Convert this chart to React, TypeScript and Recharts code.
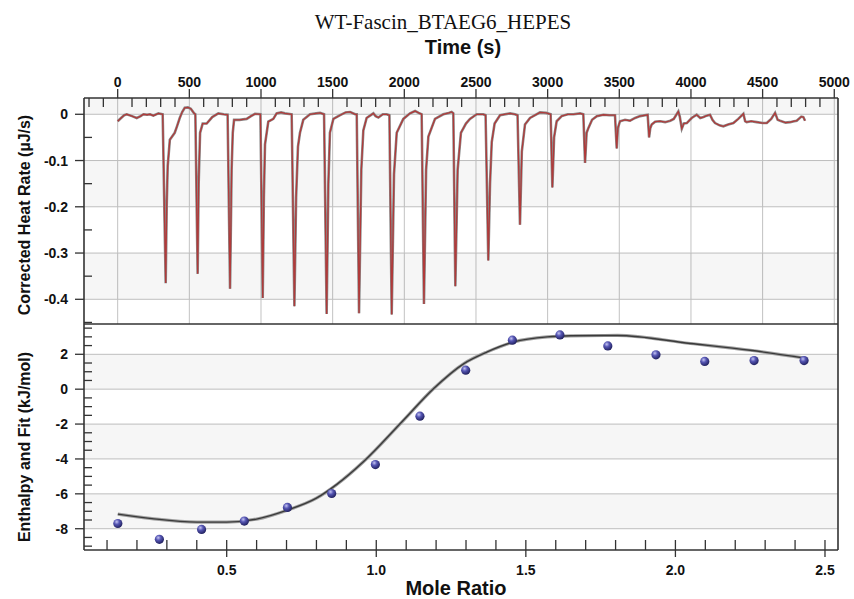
import React from 'react';
import { ComposedChart, Line, Scatter, XAxis, YAxis, CartesianGrid, ReferenceArea } from 'recharts';

// ---- Raw thermogram (time in s, corrected heat rate in µJ/s) ----
const heatTime = [
  0, 20, 45, 63, 100, 133, 160, 180, 205, 226, 249, 284, 314,
  335, 342, 349, 364, 380, 398, 415, 433, 450, 468, 490, 510, 533, 542,
  558, 565, 575, 593, 621, 660, 702, 740, 767,
  784, 795, 803, 812, 850, 900, 930, 958, 996,
  1012, 1020, 1028, 1051, 1086, 1109, 1140, 1167, 1214,
  1233, 1245, 1258, 1272, 1295, 1342, 1385, 1412, 1440,
  1458, 1470, 1481, 1505, 1552, 1590, 1622, 1657, 1668,
  1684, 1700, 1714, 1737, 1784, 1800, 1819, 1850, 1877, 1896,
  1912, 1928, 1947, 1993, 2040, 2075, 2100, 2121,
  2137, 2152, 2168, 2214, 2272, 2310, 2330, 2342,
  2356, 2372, 2395, 2430, 2458, 2505, 2551, 2567,
  2586, 2598, 2610, 2630, 2668, 2738, 2772, 2790,
  2807, 2820, 2842, 2877, 2947, 2990, 3021,
  3033, 3045, 3063, 3098, 3140, 3180, 3226, 3249,
  3261, 3272, 3284, 3310, 3343, 3389, 3430, 3470,
  3482, 3490, 3505, 3540, 3575, 3610, 3645, 3698,
  3708, 3716, 3726, 3750, 3784, 3820, 3856, 3880, 3912,
  3922, 3936, 3950, 3971, 4005, 4040, 4065, 4087, 4110, 4133, 4150, 4168, 4200, 4226, 4260, 4296,
  4330, 4366, 4378, 4389, 4420, 4459, 4500, 4529, 4560, 4587, 4605, 4622, 4660, 4692, 4720, 4738,
  4770, 4784, 4796,
];
const heatRate = [
  -0.015, -0.009, -0.002, 0.0, -0.004, -0.008, -0.004, 0.0, -0.001, 0.0, -0.003, 0.002, 0.0,
  -0.365, -0.2, -0.112, -0.055, -0.048, -0.04, -0.025, -0.008, 0.005, 0.014, 0.015, 0.012, 0.002, 0.0,
  -0.345, -0.15, -0.04, -0.02, -0.02, -0.006, 0.002, 0.0, -0.001,
  -0.377, -0.12, -0.04, -0.012, -0.012, -0.01, -0.004, 0.001, 0.0,
  -0.397, -0.18, -0.065, -0.016, -0.01, 0.002, 0.004, 0.002, 0.0,
  -0.415, -0.18, -0.07, -0.04, -0.012, 0.0, 0.002, 0.003, 0.0,
  -0.432, -0.15, -0.04, -0.01, -0.002, 0.004, 0.005, 0.0, 0.0,
  -0.43, -0.12, -0.035, -0.008, 0.002, -0.004, -0.007, 0.0, 0.0, -0.002,
  -0.433, -0.13, -0.04, -0.01, 0.002, 0.007, 0.003, 0.0,
  -0.41, -0.12, -0.048, -0.01, 0.0, 0.003, 0.005, 0.002,
  -0.372, -0.12, -0.04, -0.02, -0.01, 0.0, 0.0, -0.002,
  -0.316, -0.15, -0.06, -0.02, -0.002, 0.002, 0.0, -0.002,
  -0.239, -0.08, -0.022, -0.008, 0.004, 0.003, 0.0,
  -0.158, -0.05, -0.015, -0.004, 0.0, 0.0, 0.002, 0.0,
  -0.105, -0.04, -0.03, -0.012, -0.004, -0.001, -0.002, -0.002,
  -0.074, -0.03, -0.015, -0.012, -0.014, -0.008, -0.004, -0.001,
  -0.05, -0.03, -0.022, -0.016, -0.015, -0.017, -0.014, -0.01, 0.006,
  -0.005, -0.031, -0.02, -0.019, -0.008, -0.001, -0.008, -0.006, -0.003, -0.001, -0.012, -0.019, -0.024, -0.026, -0.022, -0.019,
  -0.01, 0.001, -0.015, -0.017, -0.015, -0.017, -0.019, -0.019, -0.01, 0.003, -0.012, -0.014, -0.018, -0.017, -0.015, -0.014,
  -0.005, -0.006, -0.014,
];

// ---- Integrated heats (mole ratio vs kJ/mol) ----
const moleRatio = [0.136, 0.275, 0.416, 0.559, 0.703, 0.851, 0.997, 1.146, 1.299, 1.455, 1.614, 1.774, 1.935, 2.098, 2.263, 2.43];
const enthalpy = [-7.7, -8.61, -8.04, -7.56, -6.78, -5.98, -4.32, -1.55, 1.09, 2.81, 3.11, 2.48, 1.97, 1.59, 1.64, 1.64];

// ---- Fitted curve ----
const fitRatio = [0.136, 0.25, 0.4, 0.5, 0.6, 0.7, 0.8, 0.868, 0.957, 1.086, 1.192, 1.293, 1.371, 1.46, 1.572, 1.65, 1.806, 2.05, 2.25, 2.43];
const fitEnthalpy = [-7.16, -7.42, -7.62, -7.62, -7.45, -6.95, -6.25, -5.46, -4.16, -1.87, 0.04, 1.47, 2.14, 2.71, 3.0, 3.06, 3.08, 2.62, 2.23, 1.79];

// ---- Ticks ----
const timeMajorTicks = [0, 500, 1000, 1500, 2000, 2500, 3000, 3500, 4000, 4500, 5000];
const timeAllTicks = Array.from({ length: 53 }, (_, i) => -200 + i * 100);
const rateMajorTicks = [0, -0.1, -0.2, -0.3, -0.4];
const rateAllTicks = [0, -0.05, -0.1, -0.15, -0.2, -0.25, -0.3, -0.35, -0.4, -0.45];
const ratioMajorTicks = [0.5, 1.0, 1.5, 2.0, 2.5];
const ratioAllTicks = Array.from({ length: 25 }, (_, i) => (i + 1) / 10);
const enthMajorTicks = [2, 0, -2, -4, -6, -8];
const enthAllTicks = Array.from({ length: 26 }, (_, i) => -9 + i * 0.5);

const timeDomain: [number, number] = [-235, 5026];
const rateDomain: [number, number] = [-0.4534, 0.0352];
const ratioDomain: [number, number] = [0.023, 2.5435];
const enthDomain: [number, number] = [-9.22, 3.737];

const rateBands: [number, number][] = [[0, 0.0352], [-0.2, -0.1], [-0.4, -0.3]];
const enthBands: [number, number][] = [[0, 2], [-4, -2], [-8, -6]];

const heatData = heatTime.map((t, i) => ({ x: t, y: heatRate[i] }));
const pointData = moleRatio.map((r, i) => ({ x: r, y: enthalpy[i] }));
const fitData = fitRatio.map((r, i) => ({ x: r, y: fitEnthalpy[i] }));

const AX = '#333';
const tickText: React.CSSProperties = {
  fontFamily: '"Liberation Sans", Arial, sans-serif',
  fontWeight: 700,
  fontSize: 14,
  fill: '#111',
};
const titleText: React.CSSProperties = {
  fontFamily: '"Liberation Sans", Arial, sans-serif',
  fontWeight: 700,
  fill: '#111',
};

const isIn = (arr: number[], v: number) => arr.some((a) => Math.abs(a - v) < 1e-6);

const TopTick = (props: any) => {
  const { x, y, payload } = props;
  const v = payload.value;
  if (isIn(timeMajorTicks, v)) {
    return (
      <g>
        <line x1={x} x2={x} y1={y - 9} y2={y} stroke={AX} strokeWidth={1.3} />
        <text x={x} y={y - 11.5} textAnchor="middle" style={tickText}>{String(v)}</text>
      </g>
    );
  }
  return <line x1={x} x2={x} y1={y} y2={y + 9} stroke={AX} strokeWidth={1.3} />;
};

const BottomTick = (props: any) => {
  const { x, y, payload } = props;
  const v = payload.value;
  if (isIn(ratioMajorTicks, v)) {
    return (
      <g>
        <line x1={x} x2={x} y1={y - 10} y2={y + 7} stroke={AX} strokeWidth={1.3} />
        <text x={x} y={y + 25} textAnchor="middle" style={tickText}>{v.toFixed(1)}</text>
      </g>
    );
  }
  return <line x1={x} x2={x} y1={y - 10} y2={y} stroke={AX} strokeWidth={1.3} />;
};

const makeLeftTick = (majors: number[], fmt: (v: number) => string) => (props: any) => {
  const { x, y, payload } = props;
  const v = payload.value;
  if (isIn(majors, v)) {
    return (
      <g>
        <line x1={x - 9} x2={x} y1={y} y2={y} stroke={AX} strokeWidth={1.3} />
        <text x={x - 16} y={y} dy="0.36em" textAnchor="end" style={tickText}>{fmt(v)}</text>
      </g>
    );
  }
  return <line x1={x} x2={x + 8} y1={y} y2={y} stroke={AX} strokeWidth={1.3} />;
};

const RateTick = makeLeftTick(rateMajorTicks, (v) => (Math.abs(v) < 1e-9 ? '0' : v.toFixed(1)));
const EnthTick = makeLeftTick(enthMajorTicks, (v) => String(Math.round(v)));

const Ball = (props: any) => {
  const { cx, cy } = props;
  if (cx == null || cy == null) return null;
  return (
    <g>
      <defs>
        <radialGradient id="ballGrad" cx="38%" cy="32%" r="70%">
          <stop offset="0%" stopColor="#c4c4f2" />
          <stop offset="40%" stopColor="#5656b4" />
          <stop offset="100%" stopColor="#1f1f5c" />
        </radialGradient>
      </defs>
      <circle cx={cx} cy={cy} r={4.6} fill="url(#ballGrad)" />
    </g>
  );
};

const axisLineStyle = { stroke: AX, strokeWidth: 1.6 };

export default function App() {
  return (
    <div style={{ position: 'absolute', left: 0, top: 0, width: 854, height: 599, background: '#fff' }}>
      <div style={{ position: 'absolute', left: 0, top: 0 }}>
        <ComposedChart width={854} height={326} margin={{ top: 0, right: 0, bottom: 2, left: 0 }}>
          <XAxis
            xAxisId="t"
            type="number"
            dataKey="x"
            orientation="top"
            height={98}
            domain={timeDomain}
            allowDataOverflow
            ticks={timeAllTicks}
            interval={0}
            tick={TopTick}
            tickLine={false}
            tickSize={0}
            tickMargin={0}
            axisLine={axisLineStyle}
          />
          <YAxis
            yAxisId="l"
            type="number"
            orientation="left"
            width={84}
            domain={rateDomain}
            allowDataOverflow
            ticks={rateAllTicks}
            interval={0}
            tick={RateTick}
            tickLine={false}
            tickSize={0}
            tickMargin={0}
            axisLine={axisLineStyle}
          />
          <YAxis
            yAxisId="r"
            type="number"
            orientation="right"
            width={16}
            domain={rateDomain}
            allowDataOverflow
            tick={false}
            tickLine={false}
            axisLine={axisLineStyle}
          />
          {rateBands.map((b, i) => (
            <ReferenceArea
              key={'rb' + i}
              xAxisId="t"
              yAxisId="l"
              y1={b[0]}
              y2={b[1]}
              fill="#000"
              fillOpacity={0.035}
              stroke="none"
              ifOverflow="hidden"
            />
          ))}
          <CartesianGrid
            xAxisId="t"
            yAxisId="l"
            verticalValues={timeMajorTicks}
            horizontalValues={rateMajorTicks}
            stroke="#c2c2c2"
            strokeWidth={1}
          />
          <Line
            xAxisId="t"
            yAxisId="l"
            data={heatData}
            dataKey="y"
            name="shadow"
            type="linear"
            dot={false}
            stroke="#8a8a8a"
            strokeWidth={2.6}
            isAnimationActive={false}
          />
          <Line
            xAxisId="t"
            yAxisId="l"
            data={heatData}
            dataKey="y"
            name="heat"
            type="linear"
            dot={false}
            stroke="#b03a3a"
            strokeWidth={1.3}
            isAnimationActive={false}
          />
        </ComposedChart>
      </div>
      <div style={{ position: 'absolute', left: 0, top: 0 }}>
        <ComposedChart width={854} height={599} margin={{ top: 0, right: 0, bottom: 0, left: 0 }}>
          <XAxis
            xAxisId="tb"
            type="number"
            orientation="top"
            height={324}
            domain={ratioDomain}
            allowDataOverflow
            tick={false}
            tickLine={false}
            axisLine={axisLineStyle}
          />
          <XAxis
            xAxisId="time"
            type="number"
            orientation="top"
            hide
            domain={timeDomain}
            allowDataOverflow
            ticks={timeMajorTicks}
          />
          <XAxis
            xAxisId="mr"
            type="number"
            dataKey="x"
            orientation="bottom"
            height={49}
            domain={ratioDomain}
            allowDataOverflow
            ticks={ratioAllTicks}
            interval={0}
            tick={BottomTick}
            tickLine={false}
            tickSize={0}
            tickMargin={0}
            axisLine={axisLineStyle}
          />
          <YAxis
            yAxisId="l"
            type="number"
            orientation="left"
            width={84}
            domain={enthDomain}
            allowDataOverflow
            ticks={enthAllTicks}
            interval={0}
            tick={EnthTick}
            tickLine={false}
            tickSize={0}
            tickMargin={0}
            axisLine={axisLineStyle}
          />
          <YAxis
            yAxisId="r"
            type="number"
            orientation="right"
            width={16}
            domain={enthDomain}
            allowDataOverflow
            tick={false}
            tickLine={false}
            axisLine={axisLineStyle}
          />
          {enthBands.map((b, i) => (
            <ReferenceArea
              key={'eb' + i}
              xAxisId="mr"
              yAxisId="l"
              y1={b[0]}
              y2={b[1]}
              fill="#000"
              fillOpacity={0.035}
              stroke="none"
              ifOverflow="hidden"
            />
          ))}
          <CartesianGrid
            xAxisId="time"
            yAxisId="l"
            verticalValues={timeMajorTicks}
            horizontalValues={enthMajorTicks}
            stroke="#c2c2c2"
            strokeWidth={1}
          />
          <Line
            xAxisId="mr"
            yAxisId="l"
            data={fitData}
            dataKey="y"
            name="fitShadow"
            type="monotone"
            dot={false}
            stroke="#a0a0a0"
            strokeWidth={3.2}
            isAnimationActive={false}
          />
          <Line
            xAxisId="mr"
            yAxisId="l"
            data={fitData}
            dataKey="y"
            name="fit"
            type="monotone"
            dot={false}
            stroke="#3a3a3a"
            strokeWidth={1.4}
            isAnimationActive={false}
          />
          <Scatter
            xAxisId="mr"
            yAxisId="l"
            data={pointData}
            dataKey="y"
            name="points"
            shape={Ball}
            isAnimationActive={false}
          />
        </ComposedChart>
      </div>
      <svg
        width={854}
        height={599}
        style={{ position: 'absolute', left: 0, top: 0, pointerEvents: 'none' }}
      >
        <text
          x={443}
          y={29}
          textAnchor="middle"
          style={{ fontFamily: '"Liberation Serif", "Times New Roman", serif', fontSize: 21, fill: '#111' }}
        >
          WT-Fascin_BTAEG6_HEPES
        </text>
        <text x={463} y={54} textAnchor="middle" style={{ ...titleText, fontSize: 20 }}>Time (s)</text>
        <text x={456} y={595} textAnchor="middle" style={{ ...titleText, fontSize: 20 }}>Mole Ratio</text>
        <text transform="translate(30,215) rotate(-90)" textAnchor="middle" style={{ ...titleText, fontSize: 16 }}>
          Corrected Heat Rate (µJ/s)
        </text>
        <text transform="translate(30,447) rotate(-90)" textAnchor="middle" style={{ ...titleText, fontSize: 16 }}>
          Enthalpy and Fit (kJ/mol)
        </text>
      </svg>
    </div>
  );
}
